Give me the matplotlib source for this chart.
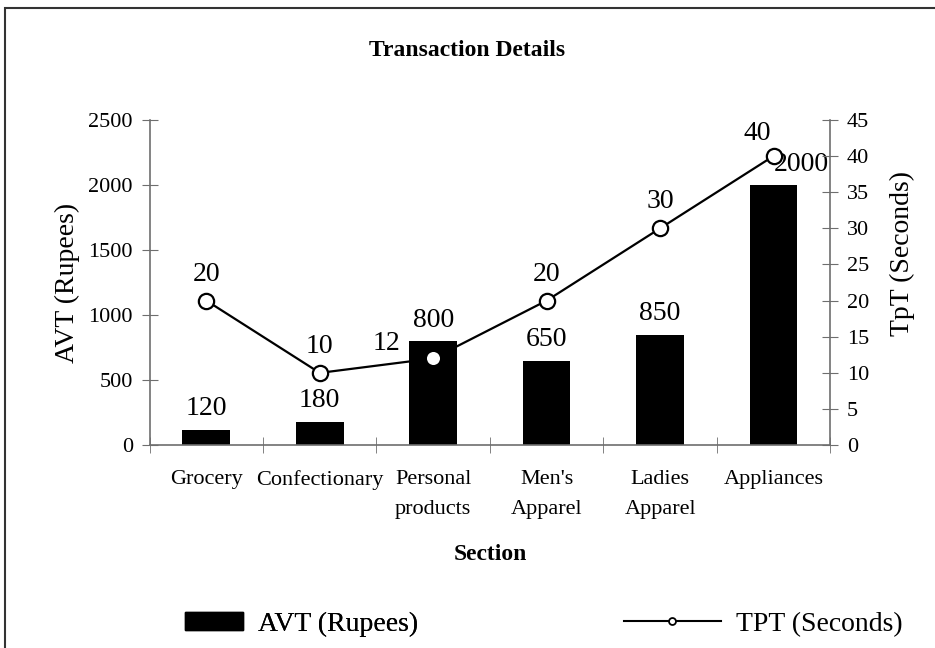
import matplotlib
matplotlib.use("Agg")
import matplotlib.pyplot as plt
from matplotlib.patches import Rectangle
from matplotlib.lines import Line2D

plt.rcParams['font.family'] = ['Liberation Serif', 'DejaVu Serif']

sections = ["Grocery", "Confectionary", "Personal\nproducts", "Men's\nApparel",
            "Ladies\nApparel", "Appliances"]
avt_rupees = [120, 180, 800, 650, 850, 2000]
tpt_seconds = [20, 10, 12, 20, 30, 40]

AXIS_GREY = '#6e6e6e'


def main():
    fig = plt.figure(figsize=(9.35, 6.48), dpi=100)
    ax = fig.add_axes([0.160, 0.313, 0.728, 0.502])
    ax2 = ax.twinx()

    x = list(range(len(sections)))
    ax.bar(x, avt_rupees, width=0.42, color='black', zorder=2)
    ax2.plot(x, tpt_seconds, color='black', lw=1.6, marker='o', ms=11,
             mfc='white', mec='black', mew=1.6, zorder=3)

    ax.set_xlim(-0.5, len(sections) - 0.5)
    ax.set_ylim(0, 2500)
    ax2.set_ylim(0, 45)
    ax.set_yticks(range(0, 2501, 500))
    ax2.set_yticks(range(0, 46, 5))
    ax.set_xticks(x)
    ax.set_xticklabels(sections, fontsize=16, linespacing=1.75)
    ax.set_xticks([i + 0.5 for i in range(-1, len(sections))], minor=True)
    ax.tick_params(axis='x', which='major', length=0, pad=18)
    ax.tick_params(axis='x', which='minor', direction='inout', length=11,
                   color=AXIS_GREY)
    ax.tick_params(axis='y', direction='inout', length=12, labelsize=16,
                   color=AXIS_GREY, pad=6)
    ax2.tick_params(axis='y', direction='inout', length=12, labelsize=16,
                    color=AXIS_GREY, pad=6)

    for a in (ax, ax2):
        a.spines['top'].set_visible(False)
        for s in ('left', 'right', 'bottom'):
            a.spines[s].set_color(AXIS_GREY)
            a.spines[s].set_linewidth(1.2)
    ax.set_zorder(ax2.get_zorder() - 1)
    ax2.patch.set_visible(False)
    ax.spines['right'].set_visible(False)
    ax2.spines['left'].set_visible(False)
    ax2.spines['bottom'].set_visible(False)

    ax.set_ylabel("AVT (Rupees)", fontsize=20, labelpad=6)
    ax2.set_ylabel("TpT (Seconds)", fontsize=20)
    ax2.yaxis.set_label_coords(1.087, 0.59)
    ax.set_xlabel("Section", fontsize=17, fontweight='bold', labelpad=18)

    # bar value labels
    bar_offsets = [(0, 6), (0, 6), (0, 6), (0, 6), (0, 6), (20, 6)]
    for xi, v, off in zip(x, avt_rupees, bar_offsets):
        ax.annotate(str(v), (xi, v), xytext=off, textcoords='offset points',
                    ha='center', va='bottom', fontsize=20, zorder=5)

    # line value labels
    line_offsets = [(0, 10), (0, 10), (-34, 2), (0, 10), (0, 10), (-12, 7)]
    for xi, v, off in zip(x, tpt_seconds, line_offsets):
        ax2.annotate(str(v), (xi, v), xytext=off, textcoords='offset points',
                     ha='center', va='bottom', fontsize=20, zorder=5)

    fig.text(0.5, 0.922, "Transaction Details", ha='center', va='center',
             fontsize=17, fontweight='bold')

    # outer chart frame
    fig.patches.append(Rectangle((5 / 935, -0.05), 1.0, 1 - 8 / 648 + 0.05,
                                 transform=fig.transFigure, fill=False,
                                 edgecolor='#333333', lw=1.5))

    bar_handle = Rectangle((0, 0), 1, 1, color='black')
    line_handle = Line2D([], [], color='black', lw=1.5, marker='o', ms=5,
                         mfc='white', mec='black', mew=1.3)
    leg1 = fig.legend([bar_handle], ["AVT (Rupees)"], loc='center left',
                      bbox_to_anchor=(185 / 935, 0.037), frameon=False,
                      fontsize=20, handlelength=2.09, handleheight=0.65,
                      handletextpad=0.55, borderpad=0, borderaxespad=0)
    fig.legend([line_handle], ["TPT (Seconds)"], loc='center left',
               bbox_to_anchor=(624 / 935, 0.037), frameon=False,
               fontsize=20, handlelength=3.49, handletextpad=0.55,
               borderpad=0, borderaxespad=0)
    fig.add_artist(leg1)

    fig.savefig("out.png", dpi=100)


if __name__ == "__main__":
    main()
